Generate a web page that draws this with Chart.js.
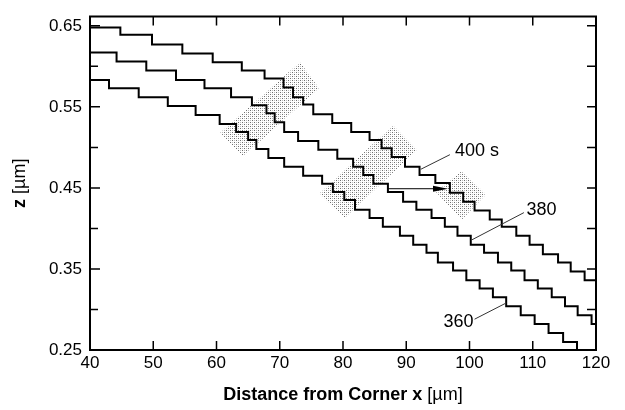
<!DOCTYPE html>
<html>
<head>
<meta charset="utf-8">
<script src="https://cdn.jsdelivr.net/npm/chart.js@4.4.1/dist/chart.umd.min.js"></script>
<style>
    html, body { margin: 0; padding: 0; background: #fff; }
    #wrap { width: 625px; height: 410px; }
</style>
</head>
<body>
<div id="wrap"><canvas id="chart" width="625" height="410"></canvas></div>
<script>
const xTicks = [40, 50, 60, 70, 80, 90, 100, 110, 120];
const yTicks = [0.25, 0.35, 0.45, 0.55, 0.65];
const yMinorTicks = [0.30, 0.40, 0.50, 0.60];

// step edges (x, um) and the level z (um) right after each step
const x400 = [40, 44.8, 49.8, 54.6, 59.4, 64.0, 67.6, 70.6, 72.1, 73.7, 75.3, 78.3, 81.3, 84.2, 86.1, 87.7,
    89.8, 92.1, 94.6, 96.9, 99.0, 100.8, 103.2, 105.1, 107.4, 109.5, 111.6, 114.0, 116.0, 118.2, 120];
const z400 = [0.648, 0.639, 0.627, 0.616, 0.605, 0.595, 0.585, 0.574, 0.562, 0.553, 0.541, 0.530, 0.519, 0.509, 0.499, 0.488,
    0.476, 0.466, 0.456, 0.444, 0.433, 0.422, 0.411, 0.402, 0.391, 0.380, 0.368, 0.358, 0.347, 0.336, 0.336];

const x380 = [40, 44.2, 48.9, 53.6, 58.1, 62.3, 65.6, 67.9, 69.2, 70.7, 72.9, 76.1, 79.1, 81.6, 83.2, 84.8,
    87.1, 89.5, 91.6, 94.0, 96.1, 98.1, 100.2, 102.3, 104.5, 106.6, 108.7, 110.8, 113.0, 115.1, 117.1, 119.3, 120];
const z380 = [0.617, 0.606, 0.595, 0.583, 0.573, 0.562, 0.552, 0.542, 0.531, 0.519, 0.508, 0.497, 0.486, 0.476, 0.466, 0.455,
    0.445, 0.433, 0.423, 0.413, 0.402, 0.391, 0.380, 0.370, 0.358, 0.348, 0.336, 0.326, 0.315, 0.304, 0.293, 0.282, 0.282];

const x360 = [40, 43.0, 47.7, 52.3, 56.7, 60.5, 63.1, 65.0, 66.3, 68.2, 70.7, 73.7, 76.7, 78.4, 80.2, 81.9, 84.2,
    86.3, 89.0, 91.1, 93.2, 95.0, 97.4, 99.5, 101.6, 103.7, 105.8, 108.1, 110.3, 112.5, 114.8, 117.0, 120];
const z360 = [0.583, 0.573, 0.562, 0.551, 0.540, 0.529, 0.519, 0.509, 0.498, 0.487, 0.476, 0.465, 0.455, 0.445, 0.435, 0.423, 0.413,
    0.402, 0.391, 0.380, 0.370, 0.358, 0.348, 0.336, 0.326, 0.315, 0.304, 0.293, 0.282, 0.271, 0.260, 0.240, 0.240];

// stippled facet regions, corners in data units
const bandX = [[60.6, 64.2, 76.2, 73.2], [76.3, 80.3, 91.7, 87.9], [94.7, 98.8, 102.6, 98.8]];
const bandZ = [[0.518, 0.489, 0.573, 0.605], [0.443, 0.413, 0.497, 0.527], [0.445, 0.411, 0.442, 0.471]];

const labels = [
    { text: '400 s', at: [97.7, 0.496], from: [96.9, 0.491], to: [92.3, 0.473] },
    { text: '380', at: [109.0, 0.423], from: [108.6, 0.4195], to: [100.4, 0.386] },
    { text: '360', at: [95.9, 0.285], from: [100.8, 0.288], to: [105.8, 0.308] },
];
const arrow = { from: [87.1, 0.449], to: [96.6, 0.449] };

const FONT = '"Liberation Sans", Arial, Helvetica, sans-serif';

function stipple() {
    const c = document.createElement('canvas');
    c.width = 4;
    c.height = 4;
    const g = c.getContext('2d');
    g.fillStyle = '#6e6e6e';
    g.fillRect(0, 0, 1, 1);
    g.fillRect(2, 2, 1, 1);
    g.fillStyle = '#bdbdbd';
    g.fillRect(2, 0, 1, 1);
    g.fillRect(0, 2, 1, 1);
    return g.createPattern(c, 'repeat');
}

const pattern = stipple();

function pts(xs, ys) {
    return xs.map((v, i) => ({ x: v, y: ys[i] }));
}

const stepSet = (xs, ys) => ({
    data: pts(xs, ys),
    stepped: 'before',
    borderColor: '#000',
    borderWidth: 2,
    pointRadius: 0,
    fill: false,
    order: 0,
});

const bandSets = bandX.map((xs, i) => ({
    data: pts(xs.concat(xs[0]), bandZ[i].concat(bandZ[i][0])),
    borderWidth: 0,
    borderColor: 'rgba(0,0,0,0)',
    backgroundColor: pattern,
    pointRadius: 0,
    fill: 'shape',
    order: 1,
}));

const frame = {
    id: 'frame',
    afterDatasetsDraw(chart) {
        const { ctx, chartArea: a, scales: { x, y } } = chart;
        ctx.save();

        // leader lines
        ctx.strokeStyle = '#333';
        ctx.lineWidth = 1;
        ctx.beginPath();
        labels.forEach((l) => {
            ctx.moveTo(x.getPixelForValue(l.from[0]), y.getPixelForValue(l.from[1]));
            ctx.lineTo(x.getPixelForValue(l.to[0]), y.getPixelForValue(l.to[1]));
        });
        ctx.stroke();

        // arrow
        const ax0 = x.getPixelForValue(arrow.from[0]);
        const ax1 = x.getPixelForValue(arrow.to[0]);
        const ay = y.getPixelForValue(arrow.from[1]);
        ctx.strokeStyle = '#000';
        ctx.beginPath();
        ctx.moveTo(ax0, ay);
        ctx.lineTo(ax1 - 10, ay);
        ctx.stroke();
        ctx.fillStyle = '#000';
        ctx.beginPath();
        ctx.moveTo(ax1, ay);
        ctx.lineTo(ax1 - 15, ay - 3);
        ctx.lineTo(ax1 - 15, ay + 3);
        ctx.closePath();
        ctx.fill();

        // label texts
        ctx.font = '18px ' + FONT;
        ctx.textBaseline = 'middle';
        ctx.textAlign = 'left';
        labels.forEach((l) => {
            ctx.fillText(l.text, x.getPixelForValue(l.at[0]), y.getPixelForValue(l.at[1]));
        });

        // frame + inward ticks
        ctx.strokeStyle = '#000';
        ctx.lineWidth = 2;
        ctx.strokeRect(a.left, a.top, a.right - a.left, a.bottom - a.top);
        ctx.lineWidth = 1.5;
        ctx.beginPath();
        xTicks.slice(1, -1).forEach((v) => {
            const px = x.getPixelForValue(v);
            ctx.moveTo(px, a.bottom);
            ctx.lineTo(px, a.bottom - 9);
            ctx.moveTo(px, a.top);
            ctx.lineTo(px, a.top + 9);
        });
        yTicks.concat(yMinorTicks).forEach((v) => {
            const py = y.getPixelForValue(v);
            const len = yTicks.includes(v) ? 10 : 8;
            ctx.moveTo(a.left, py);
            ctx.lineTo(a.left + len, py);
            ctx.moveTo(a.right, py);
            ctx.lineTo(a.right - 9, py);
        });
        ctx.stroke();

        // axis titles, bold name + plain unit
        ctx.fillStyle = '#000';
        ctx.textBaseline = 'middle';
        ctx.textAlign = 'left';
        const boldX = 'bold 18px ' + FONT;
        const normX = '18px ' + FONT;
        const tx1 = 'Distance from Corner x ';
        const tx2 = '[µm]';
        ctx.font = boldX;
        const w1 = ctx.measureText(tx1).width;
        ctx.font = normX;
        const w2 = ctx.measureText(tx2).width;
        const cx = (a.left + a.right) / 2;
        let sx = cx - (w1 + w2) / 2;
        ctx.font = boldX;
        ctx.fillText(tx1, sx, 395);
        ctx.font = normX;
        ctx.fillText(tx2, sx + w1, 395);

        ctx.translate(20, (a.top + a.bottom) / 2);
        ctx.rotate(-Math.PI / 2);
        ctx.font = boldX;
        const v1 = ctx.measureText('z ').width;
        ctx.font = normX;
        const v2 = ctx.measureText('[µm]').width;
        sx = -(v1 + v2) / 2;
        ctx.font = boldX;
        ctx.fillText('z ', sx, 0);
        ctx.font = normX;
        ctx.fillText('[µm]', sx + v1, 0);

        ctx.restore();
    },
};

new Chart(document.getElementById('chart'), {
    type: 'line',
    data: {
        datasets: [stepSet(x400, z400), stepSet(x380, z380), stepSet(x360, z360), ...bandSets],
    },
    options: {
        responsive: false,
        animation: false,
        layout: { padding: { top: 8, right: 29, left: 0, bottom: 0 } },
        plugins: {
            legend: { display: false },
            tooltip: { enabled: false },
        },
        scales: {
            x: {
                type: 'linear',
                min: 40,
                max: 120,
                afterBuildTicks: (s) => { s.ticks = xTicks.map((v) => ({ value: v })); },
                afterFit: (s) => { s.height = 60; },
                grid: { display: false, drawTicks: false },
                border: { display: false },
                ticks: { color: '#000', padding: 5, font: { family: FONT, size: 17, lineHeight: 1 } },
            },
            y: {
                type: 'linear',
                min: 0.25,
                max: 0.6615,
                afterBuildTicks: (s) => { s.ticks = yTicks.map((v) => ({ value: v })); },
                afterFit: (s) => { s.width = 90; },
                grid: { display: false, drawTicks: false },
                border: { display: false },
                ticks: {
                    color: '#000',
                    padding: 8,
                    font: { family: FONT, size: 17, lineHeight: 1 },
                    callback: (v) => Number(v).toFixed(2),
                },
            },
        },
    },
    plugins: [frame],
});
</script>
</body>
</html>
